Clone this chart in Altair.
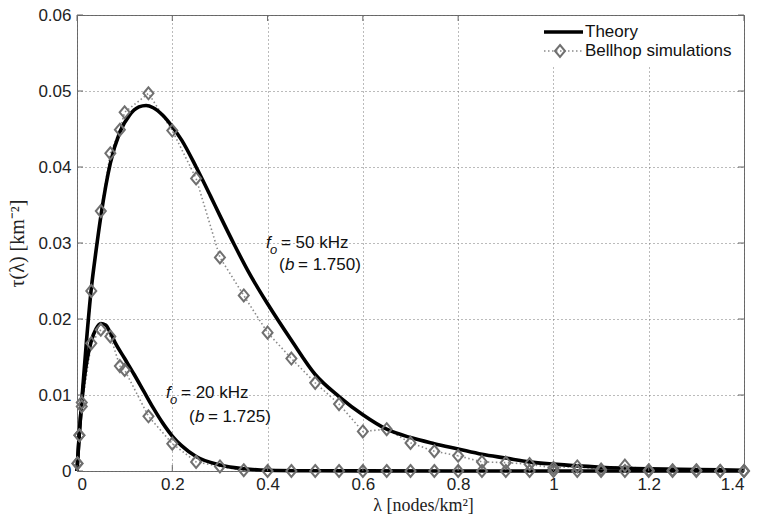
import altair as alt
import pandas as pd

# ---------------- data ----------------
theory50_x = [0, 0.005, 0.01, 0.02, 0.03, 0.04, 0.05, 0.07, 0.09, 0.11, 0.13, 0.145, 0.16, 0.18,
              0.2, 0.22, 0.25, 0.28, 0.3, 0.33, 0.36, 0.4, 0.45, 0.5, 0.55, 0.6, 0.65, 0.7,
              0.75, 0.8, 0.85, 0.9, 0.95, 1.0, 1.1, 1.2, 1.3, 1.4]
theory50_y = [0, 0.0050, 0.0093, 0.0172, 0.0240, 0.0290, 0.0335, 0.0405, 0.0446, 0.0468, 0.0479,
              0.0481, 0.0478, 0.0468, 0.0453, 0.0435, 0.0400, 0.0362, 0.0336, 0.0298, 0.0262,
              0.0220, 0.0172, 0.0127, 0.0098, 0.0074, 0.0055, 0.0044, 0.0036, 0.0029, 0.0022,
              0.0017, 0.0012, 0.0009, 0.0005, 0.0003, 0.0002, 0.0001]

theory20_x = [0, 0.005, 0.01, 0.02, 0.03, 0.04, 0.05, 0.06, 0.07, 0.08, 0.1, 0.12, 0.14, 0.16,
              0.18, 0.2, 0.22, 0.25, 0.3, 0.35, 0.4, 0.5, 0.6, 0.8, 1.0, 1.2, 1.4]
theory20_y = [0, 0.0052, 0.0090, 0.0142, 0.0171, 0.0187, 0.0194, 0.0192, 0.0182, 0.0169, 0.0148,
              0.0127, 0.0105, 0.0083, 0.0063, 0.0046, 0.0033, 0.0019, 0.0008, 0.0003, 0.0001,
              0.00003, 0.00001, 0, 0, 0, 0]

sim_x = [0.001, 0.005, 0.01, 0.03, 0.05, 0.07, 0.09, 0.1, 0.15, 0.2, 0.25, 0.3, 0.35, 0.4,
         0.45, 0.5, 0.55, 0.6, 0.65, 0.7, 0.75, 0.8, 0.85, 0.9, 0.95, 1.0, 1.05, 1.1, 1.15,
         1.2, 1.25, 1.3, 1.35, 1.4]
sim50_y = [0.0010, 0.0047, 0.0090, 0.0237, 0.0342, 0.0418, 0.0449, 0.0472, 0.0497, 0.0448,
           0.0385, 0.0281, 0.0231, 0.0182, 0.0148, 0.0116, 0.0088, 0.0052, 0.0055, 0.0037,
           0.0026, 0.0020, 0.0012, 0.0011, 0.0009, 0.0004, 0.0006, 0.0002, 0.0007, 0.0001,
           0.0001, 0.0001, 0.0, 0.0]
sim20_y = [0.0010, 0.0047, 0.0085, 0.0168, 0.0186, 0.0177, 0.0138, 0.0133, 0.0072, 0.0036,
           0.0012, 0.0006, 0.0001, 0.0, 0.0, 0.0, 0.0, 0.0, 0.0, 0.0, 0.0, 0.0, 0.0, 0.0, 0.0,
           0.0, 0.0, 0.0, 0.0, 0.0, 0.0, 0.0, 0.0, 0.0]

x_ticks = [0, 0.2, 0.4, 0.6, 0.8, 1.0, 1.2, 1.4]
y_ticks = [0, 0.01, 0.02, 0.03, 0.04, 0.05, 0.06]

# ---------------- tables ----------------
theory = pd.concat([
    pd.DataFrame({"x": theory50_x, "y": theory50_y, "s": "50"}),
    pd.DataFrame({"x": theory20_x, "y": theory20_y, "s": "20"}),
])
sims = pd.concat([
    pd.DataFrame({"x": sim_x, "y": sim50_y, "s": "50"}),
    pd.DataFrame({"x": sim_x, "y": sim20_y, "s": "20"}),
])

W, H = 667, 456
FONT = "Liberation Sans"
SERIF = "Liberation Serif"
FS = 17

xs = alt.Scale(domain=[0, 1.4], nice=False, zero=False)
ys = alt.Scale(domain=[0, 0.06], nice=False, zero=False)

xaxis = alt.Axis(values=x_ticks, format=".1~f", grid=True, ticks=False, domain=False,
                 title="λ [nodes/km²]", titleFont=SERIF, titleFontSize=18, titleFontWeight="normal",
                 titlePadding=4, titleX=346, labelPadding=5)
yaxis = alt.Axis(values=y_ticks, format=".2~f", grid=True, ticks=False, domain=False,
                 title="τ(λ)  [km⁻²]", titleFont=SERIF, titleFontSize=20, titleFontWeight="normal",
                 titlePadding=10, labelPadding=6)

X = alt.X("x:Q", scale=xs, axis=xaxis)
Y = alt.Y("y:Q", scale=ys, axis=yaxis)

theory_layer = alt.Chart(theory).mark_line(
    color="black", strokeWidth=3.6, interpolate="monotone", clip=False
).encode(x=X, y=Y, detail="s:N", order="x:Q")

sim_line = alt.Chart(sims).mark_line(
    color="#8a8a8a", strokeWidth=1.6, strokeDash=[1.5, 2.5]
).encode(x=X, y=Y, detail="s:N", order="x:Q")

DIAMOND = "M0,-1.2L1,0L0,1.2L-1,0Z"
sim_pts = alt.Chart(sims).mark_point(
    shape=DIAMOND, size=100, filled=False, stroke="#707070", strokeWidth=2, opacity=1
).encode(x=X, y=Y)

# inward ticks on all four sides (positions from the scales)
tx = pd.DataFrame({"t": x_ticks})
ty = pd.DataFrame({"t": y_ticks})
TK = 6
tick_col = "#666666"
xt = alt.X("t:Q", scale=xs, axis=xaxis)
yt = alt.Y("t:Q", scale=ys, axis=yaxis)
ticks_bottom = alt.Chart(tx).mark_rule(color=tick_col, strokeWidth=1).encode(
    x=xt, y=alt.value(H), y2=alt.value(H - TK))
ticks_top = alt.Chart(tx).mark_rule(color=tick_col, strokeWidth=1).encode(
    x=xt, y=alt.value(0), y2=alt.value(TK))
ticks_left = alt.Chart(ty).mark_rule(color=tick_col, strokeWidth=1).encode(
    y=yt, x=alt.value(0), x2=alt.value(TK))
ticks_right = alt.Chart(ty).mark_rule(color=tick_col, strokeWidth=1).encode(
    y=yt, x=alt.value(W), x2=alt.value(W - TK))

one = pd.DataFrame({"a": [0]})


def txt(x, y, s, dx=0, dy=0, italic=False, size=FS):
    return alt.Chart(pd.DataFrame({"x": [x], "y": [y], "s": [s]})).mark_text(
        align="left", baseline="alphabetic", font=FONT, fontSize=size, dx=dx, dy=dy,
        fontStyle="italic" if italic else "normal", color="#111111"
    ).encode(x=X, y=Y, text="s:N")


ann = [
    txt(0.3966, 0.02934, "f", italic=True),
    txt(0.3966, 0.02934, "o", dx=4, dy=6, italic=True, size=13),
    txt(0.3966, 0.02934, "= 50 kHz", dx=15),
    txt(0.424, 0.02645, "("),
    txt(0.424, 0.02645, "b", dx=6, italic=True),
    txt(0.424, 0.02645, "= 1.750)", dx=19),
    txt(0.1868, 0.0096, "f", italic=True),
    txt(0.1868, 0.0096, "o", dx=4, dy=6, italic=True, size=13),
    txt(0.1868, 0.0096, "= 20 kHz", dx=15),
    txt(0.235, 0.00645, "("),
    txt(0.235, 0.00645, "b", dx=6, italic=True),
    txt(0.235, 0.00645, "= 1.725)", dx=19),
]

# legend (drawn in panel pixel space)
leg_bg = alt.Chart(one).mark_rect(fill="white").encode(
    x=alt.value(404), x2=alt.value(W - 1), y=alt.value(1), y2=alt.value(50))
leg_theory = alt.Chart(one).mark_rule(color="black", strokeWidth=3.6).encode(
    x=alt.value(467), x2=alt.value(506), y=alt.value(17))
leg_sim_line = alt.Chart(one).mark_rule(color="#8a8a8a", strokeWidth=1.6, strokeDash=[1.5, 2.5]).encode(
    x=alt.value(467), x2=alt.value(505), y=alt.value(36))
leg_sim_pt = alt.Chart(one).mark_point(shape=DIAMOND, size=100, filled=False, stroke="#707070",
                                       strokeWidth=2, opacity=1).encode(
    x=alt.value(483), y=alt.value(36))
leg_t1 = alt.Chart(one).mark_text(align="left", baseline="middle", font=FONT, fontSize=FS,
                                  color="#111111").encode(
    x=alt.value(508), y=alt.value(17), text=alt.value("Theory"))
leg_t2 = alt.Chart(one).mark_text(align="left", baseline="middle", font=FONT, fontSize=FS,
                                  color="#111111").encode(
    x=alt.value(508), y=alt.value(36), text=alt.value("Bellhop simulations"))

chart = alt.layer(
    sim_line, theory_layer, sim_pts,
    ticks_bottom, ticks_top, ticks_left, ticks_right,
    *ann,
    leg_bg, leg_theory, leg_sim_line, leg_sim_pt, leg_t1, leg_t2,
).properties(
    width=W, height=H,
    padding={"left": 77, "top": 15, "right": 15, "bottom": 46},
    autosize=alt.AutoSizeParams(type="none"),
    background="white",
).configure_view(
    stroke="#666666", strokeWidth=1
).configure_axis(
    labelFont=FONT, labelFontSize=FS, labelColor="#222222",
    gridColor="#777777", gridDash=[1, 3], gridWidth=1, gridOpacity=1,
    titleColor="#222222",
)

chart.save("out.html", embed_options={"renderer": "svg", "actions": False})
